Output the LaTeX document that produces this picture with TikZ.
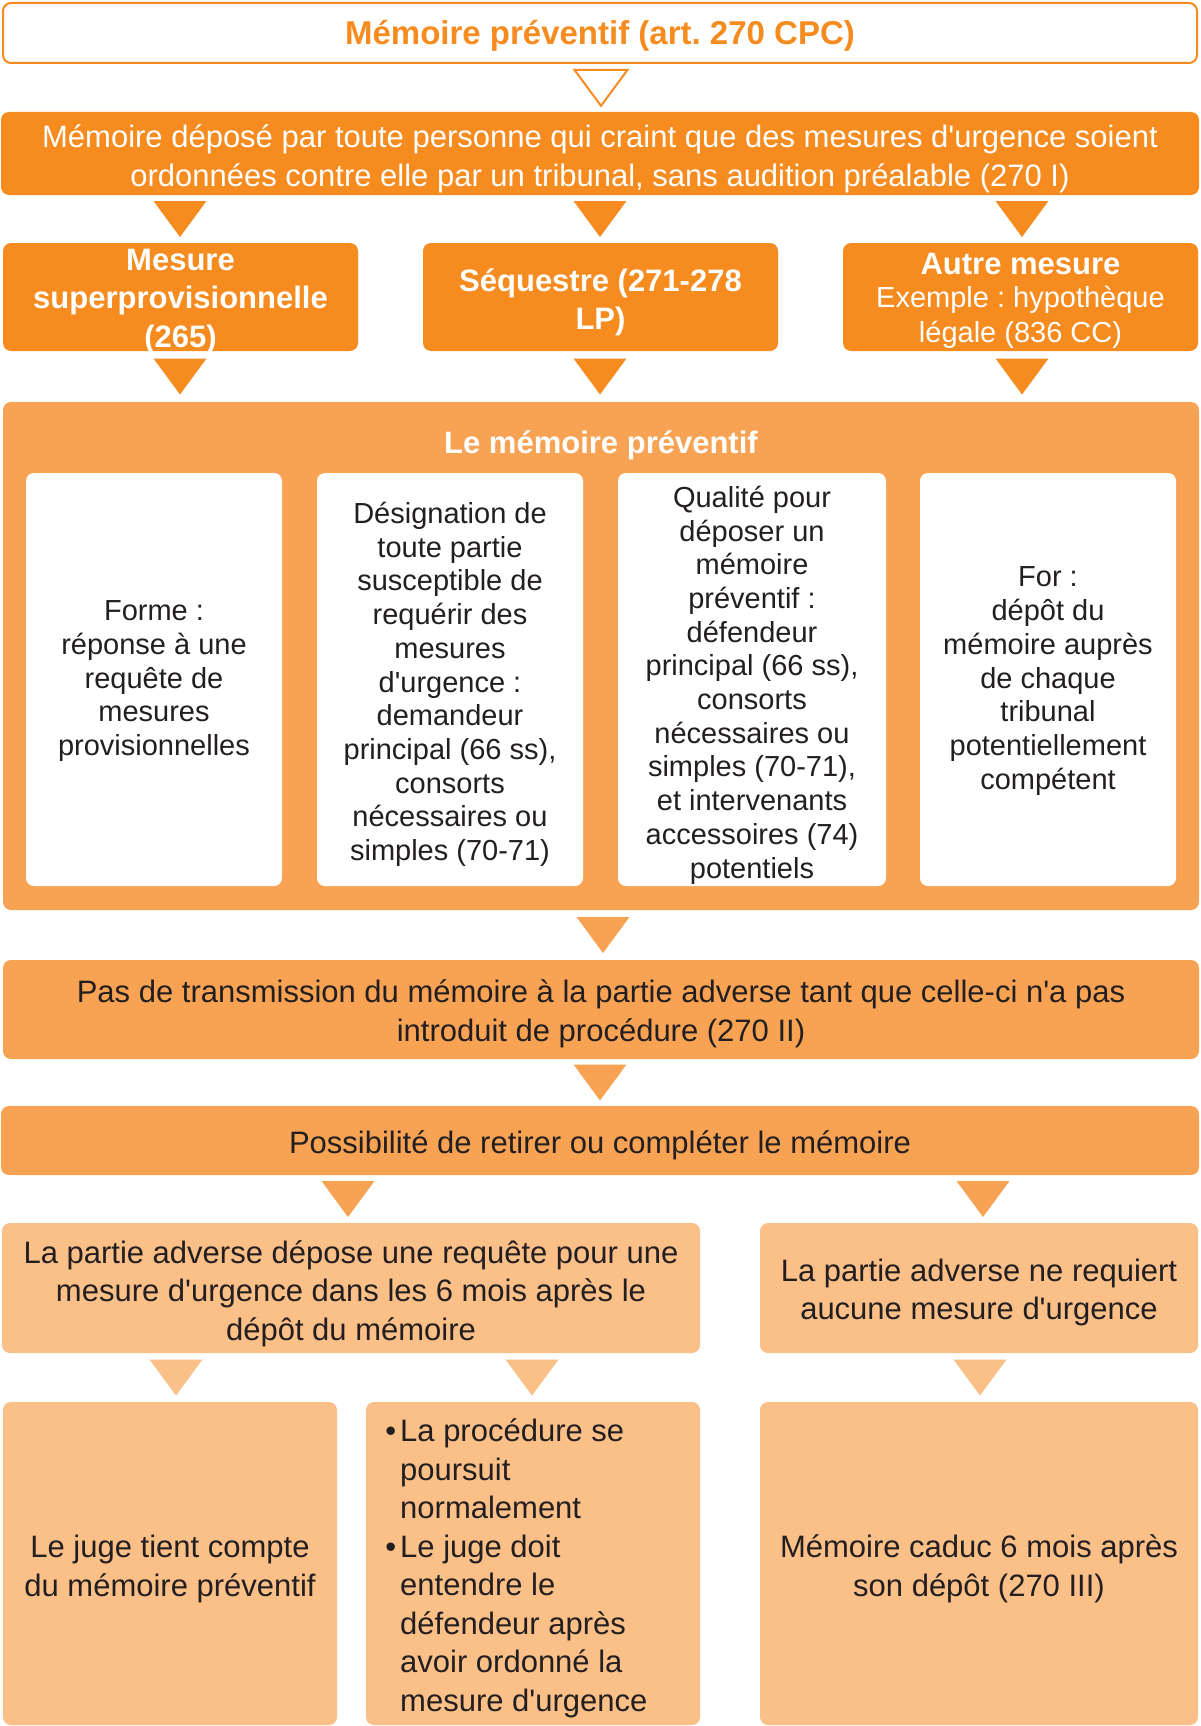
\documentclass[tikz,border=0pt]{standalone}
\usepackage{fontspec}
\setmainfont{Liberation Sans}[Ligatures=TeXOff]
\usetikzlibrary{calc}
\definecolor{dkor}{HTML}{F68B1F}
\definecolor{mdor}{HTML}{F8A253}
\definecolor{ltor}{HTML}{FBBF88}
\definecolor{txt}{HTML}{231F20}
\newcommand\bigf{\fontsize{31}{38.5}\selectfont}
\newcommand\smf{\fontsize{29}{33.7}\selectfont}
\newcommand\bul{\llap{\textbullet\hspace{4pt}}}
\tikzset{
  base/.style={rounded corners=8pt, inner sep=0pt},
  plain/.style={inner sep=0pt, align=center},
  dk/.style={base, fill=dkor},
  dkb/.style={base, fill=dkor},
  md/.style={base, fill=mdor},
  lt/.style={base, fill=ltor},
  wb/.style={base, fill=white},
  dk text/.style={plain, text=white, font=\bigf},
  dkb text/.style={plain, text=white, font=\bigf\bfseries},
  md text/.style={plain, text=txt, font=\bigf},
  lt text/.style={plain, text=txt, font=\bigf},
  wb text/.style={plain, text=txt, font=\smf},
}
% \bx[dy]{kind}{name}{x}{y}{w}{h}{text}
\newcommand\bx[8][5]{%
  \node[#2, minimum width=#6pt, minimum height=#7pt] (#3) at (#4,#5) {};
  \node[#2 text] (#3t) at (#4,{#5+#1}) {#8};}
% #1 style, #2 x (px), #3 upper node, #4 lower node
\newcommand\downtri[4]{%
  \path[#1] let \p1=(#3.south), \p2=(#4.north), \n1={(\y1+\y2)/2} in
    ({#2*1pt-26.5pt},{\n1+18pt}) -- ({#2*1pt+26.5pt},{\n1+18pt}) -- ({#2*1pt},{\n1-18pt}) -- cycle;}
\begin{document}
\frenchspacing
\begin{tikzpicture}[x=1pt,y=-1pt]
\useasboundingbox (0,0) rectangle (1200,1726);
% title
\node[base, draw=dkor, line width=2pt, fill=white, minimum width=1194pt, minimum height=60pt] (t) at (600,33) {};
\node[plain, text=dkor, font=\fontsize{33}{38}\selectfont\bfseries] (tt) at (600,36.3) {Mémoire préventif (art. 270 CPC)};
\bx[5.5]{dk}{b2}{600}{153.5}{1198}{83}
  {Mémoire déposé par toute personne qui craint que des mesures d'urgence soient\\ordonnées contre elle par un tribunal, sans audition préalable (270 I)}
\downtri{fill=white, draw=dkor, line width=2pt}{601}{t}{b2}
% three measures
\bx[4.4]{dkb}{m1}{180.5}{297}{355}{108}{Mesure\\superprovisionnelle\\(265)}
\bx[5.5]{dkb}{m2}{600.5}{297}{355}{108}{Séquestre (271-278\\LP)}
\node[dk, minimum width=355pt, minimum height=108pt] (m3) at (1020.5,297) {};
\node[plain, text=white, font=\fontsize{29}{35}\selectfont] (m3t) at (1020.5,300.5)
  {{\bigf\bfseries Autre mesure}\\[-2pt]Exemple : hypothèque\\légale (836 CC)};
\downtri{fill=dkor}{180}{b2}{m1}
\downtri{fill=dkor}{600}{b2}{m2}
\downtri{fill=dkor}{1022}{b2}{m3}
% container
\node[md, minimum width=1196pt, minimum height=508pt] (c) at (601,656) {};
\node[plain, text=white, font=\bigf\bfseries] (ct) at (601,445.2) {Le mémoire préventif};
\downtri{fill=dkor}{180}{m1}{c}
\downtri{fill=dkor}{600}{m2}{c}
\downtri{fill=dkor}{1022}{m3}{c}
\bx[1.6]{wb}{i1}{154}{679.5}{256}{413}
  {Forme :\\réponse à une\\requête de\\mesures\\provisionnelles}
\bx[4.9]{wb}{i2}{450}{679.5}{266}{413}
  {Désignation de\\toute partie\\susceptible de\\requérir des\\mesures\\d'urgence :\\demandeur\\principal (66 ss),\\consorts\\nécessaires ou\\simples (70-71)}
\bx[5.5]{wb}{i3}{752}{679.5}{268}{413}
  {Qualité pour\\déposer un\\mémoire\\préventif :\\défendeur\\principal (66 ss),\\consorts\\nécessaires ou\\simples (70-71),\\et intervenants\\accessoires (74)\\potentiels}
\bx[1.6]{wb}{i4}{1048}{679.5}{256}{413}
  {For :\\dépôt du\\mémoire auprès\\de chaque\\tribunal\\potentiellement\\compétent}
% next steps
\bx[4.4]{md}{p}{601}{1009.5}{1196}{99}
  {Pas de transmission du mémoire à la partie adverse tant que celle-ci n'a pas\\introduit de procédure (270 II)}
\downtri{fill=mdor}{603}{c}{p}
\bx[4.4]{md}{q}{600}{1140.5}{1198}{69}
  {Possibilité de retirer ou compléter le mémoire}
\downtri{fill=mdor}{600}{p}{q}
\bx[5.5]{lt}{l1}{351}{1288}{698}{130}
  {La partie adverse dépose une requête pour une\\mesure d'urgence dans les 6 mois après le\\dépôt du mémoire}
\bx[4.4]{lt}{r1}{979}{1288}{438}{130}
  {La partie adverse ne requiert\\aucune mesure d'urgence}
\downtri{fill=mdor}{348}{q}{l1}
\downtri{fill=mdor}{983}{q}{r1}
\bx[5.5]{lt}{bl}{170}{1563.5}{334}{323}
  {Le juge tient compte\\du mémoire préventif}
\node[lt, minimum width=334pt, minimum height=323pt] (bm) at (533,1563.5) {};
\node[plain, align=left, anchor=west, text=txt, font=\bigf] (bmt) at (400,1568.5)
  {\bul La procédure se\\poursuit\\normalement\\\bul Le juge doit\\entendre le\\défendeur après\\avoir ordonné la\\mesure d'urgence};
\bx[5.5]{lt}{br}{979}{1563.5}{438}{323}
  {Mémoire caduc 6 mois après\\son dépôt (270 III)}
\downtri{fill=ltor}{176}{l1}{bl}
\downtri{fill=ltor}{532}{l1}{bm}
\downtri{fill=ltor}{980}{r1}{br}
\end{tikzpicture}
\end{document}
